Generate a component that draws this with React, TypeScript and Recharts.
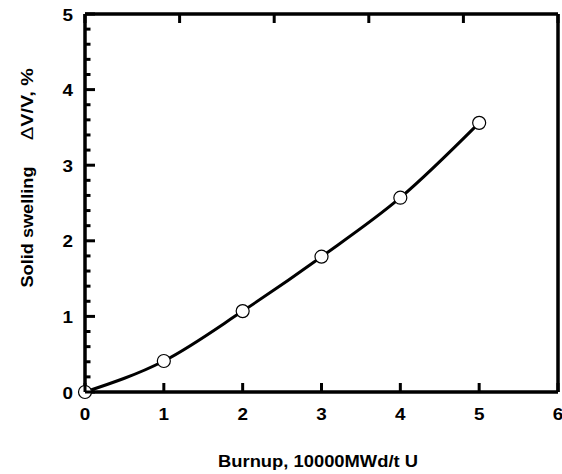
import React from 'react';
import { ComposedChart, Line, XAxis, YAxis } from 'recharts';

const burnup = [0, 1, 2, 3, 4, 5];
const swelling = [0, 0.41, 1.07, 1.79, 2.57, 3.56];

const xTicks = [0, 1, 2, 3, 4, 5, 6];
// major ticks every 1, minor every 0.2
const yTicks = [
  0, 0.2, 0.4, 0.6, 0.8, 1, 1.2, 1.4, 1.6, 1.8, 2, 2.2, 2.4, 2.6, 2.8, 3, 3.2, 3.4, 3.6,
  3.8, 4, 4.2, 4.4, 4.6, 4.8, 5,
];

const data = burnup.map((x, i) => ({ x, y: swelling[i] }));

const FONT = '"Liberation Sans", Arial, Helvetica, sans-serif';
const frame = { stroke: '#000', strokeWidth: 3.5 };
const TICK_W = 3;

const isMajor = (v: number) => Math.abs(v - Math.round(v)) < 1e-6;

function Digit({ x, y, anchor, value }: { x: number; y: number; anchor: string; value: number }) {
  return (
    <text
      x={x}
      y={y}
      textAnchor={anchor}
      fontFamily={FONT}
      fontSize={16.5}
      fontWeight={700}
      fill="#000"
      textLength={10.5}
      lengthAdjust="spacingAndGlyphs"
    >
      {value}
    </text>
  );
}

function BottomTick(props: any) {
  const { x, y, payload } = props;
  return (
    <g>
      <line x1={x} x2={x} y1={y} y2={y - 9} stroke="#000" strokeWidth={TICK_W} />
      <Digit x={x} y={y + 28} anchor="middle" value={payload.value} />
    </g>
  );
}

function TopTick(props: any) {
  const { x, y } = props;
  return <line x1={x} x2={x} y1={y} y2={y + 9} stroke="#000" strokeWidth={TICK_W} />;
}

function LeftTick(props: any) {
  const { x, y, payload } = props;
  const major = isMajor(payload.value);
  return (
    <g>
      <line x1={x} x2={x + (major ? 10 : 5.5)} y1={y} y2={y} stroke="#000" strokeWidth={TICK_W} />
      {major && <Digit x={x - 12} y={y + 6.5} anchor="end" value={Math.round(payload.value)} />}
    </g>
  );
}

function RightTick(props: any) {
  const { x, y, payload } = props;
  const major = isMajor(payload.value);
  return (
    <line x1={x} x2={x - (major ? 10 : 5.5)} y1={y} y2={y} stroke="#000" strokeWidth={TICK_W} />
  );
}

function YLabel() {
  return (
    <g fontFamily={FONT} fontSize={16} fill="#000">
      <text
        x={33}
        y={227}
        transform="rotate(-90, 33, 227)"
        textAnchor="middle"
        fontWeight={700}
        textLength={121}
        lengthAdjust="spacingAndGlyphs"
      >
        Solid swelling
      </text>
      <text
        x={33}
        y={104}
        transform="rotate(-90, 33, 104)"
        textAnchor="middle"
        fontWeight={700}
        textLength={72}
        lengthAdjust="spacingAndGlyphs"
      >
        <tspan fontWeight={400}>Δ</tspan>V/V, %
      </text>
    </g>
  );
}

function XLabel() {
  return (
    <text
      x={318}
      y={467}
      textAnchor="middle"
      fontFamily={FONT}
      fontSize={16}
      fontWeight={700}
      fill="#000"
      textLength={200}
      lengthAdjust="spacingAndGlyphs"
    >
      Burnup, 10000MWd/t U
    </text>
  );
}

export default function App() {
  return (
    <div style={{ position: 'absolute', left: 0, top: 0, background: '#fff' }}>
      <ComposedChart
        width={562}
        height={474}
        data={data}
        margin={{ top: 13, right: 3, bottom: 0, left: 0 }}
      >
        <XAxis
          xAxisId="x"
          dataKey="x"
          type="number"
          domain={[0, 6]}
          ticks={xTicks}
          height={82}
          tickLine={false}
          tickSize={0}
          tickMargin={0}
          axisLine={frame}
          tick={<BottomTick />}
          label={<XLabel />}
        />
        <XAxis
          xAxisId="top"
          type="number"
          orientation="top"
          height={1}
          domain={[0, 6]}
          ticks={xTicks}
          tickLine={false}
          tickSize={0}
          tickMargin={0}
          axisLine={frame}
          tick={<TopTick />}
        />
        <YAxis
          yAxisId="y"
          type="number"
          domain={[0, 5]}
          ticks={yTicks}
          interval={0}
          width={85}
          tickLine={false}
          tickSize={0}
          tickMargin={0}
          axisLine={frame}
          tick={<LeftTick />}
          label={<YLabel />}
        />
        <YAxis
          yAxisId="right"
          type="number"
          orientation="right"
          domain={[0, 5]}
          ticks={yTicks}
          interval={0}
          width={1}
          tickLine={false}
          tickSize={0}
          tickMargin={0}
          axisLine={frame}
          tick={<RightTick />}
        />
        <Line
          xAxisId="x"
          yAxisId="y"
          dataKey="y"
          type="monotone"
          stroke="#000"
          strokeWidth={3}
          dot={{ r: 6.5, fill: '#fff', stroke: '#000', strokeWidth: 1.2 }}
          activeDot={false}
          isAnimationActive={false}
        />
      </ComposedChart>
    </div>
  );
}
